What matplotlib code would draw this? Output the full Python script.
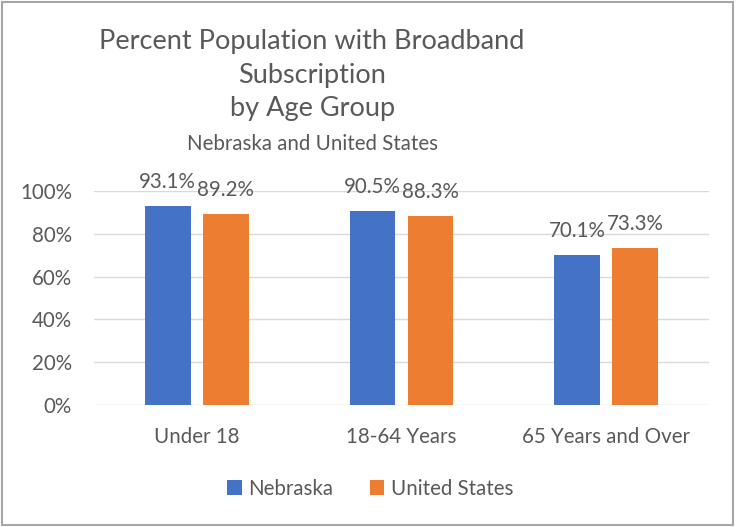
import matplotlib
matplotlib.use("Agg")
import matplotlib.pyplot as plt
import numpy as np
from matplotlib.patches import Rectangle

categories = ["Under 18", "18-64 Years", "65 Years and Over"]
nebraska = [93.1, 90.5, 70.1]
united_states = [89.2, 88.3, 73.3]
series_names = ["Nebraska", "United States"]
yticks = [0, 20, 40, 60, 80, 100]

plt.rcParams['font.family'] = ['Lato', 'DejaVu Sans']
TXT = '#595959'
BLUE = '#4472C4'
ORANGE = '#ED7D31'
FS = 14.8

fig = plt.figure(figsize=(7.36, 5.27), dpi=100)
fig.patches.append(Rectangle((0.003, 0.004), 0.993, 0.992, transform=fig.transFigure,
                             fill=False, edgecolor='#A6A6A6', linewidth=1.5))
ax = fig.add_axes([0.128, 0.2315, 0.835, 0.4061])

x = np.arange(len(categories))
w = 0.224
off = 0.1415
b1 = ax.bar(x - off, nebraska, w, color=BLUE, label=series_names[0], zorder=3)
b2 = ax.bar(x + off, united_states, w, color=ORANGE, label=series_names[1], zorder=3)
for bars, vals in ((b1, nebraska), (b2, united_states)):
    for r, v in zip(bars, vals):
        ax.annotate(f"{v:.1f}%", (r.get_x() + r.get_width() / 2, v), xytext=(0, 10),
                    textcoords='offset points', ha='center', va='bottom',
                    fontsize=FS, color=TXT, annotation_clip=False)

ax.set_xlim(-0.5, 2.5)
ax.set_ylim(0, 100)
ax.set_yticks(yticks)
ax.set_yticklabels([f"{t}%" for t in yticks], fontsize=FS, color=TXT)
ax.set_xticks(x)
ax.set_xticklabels(categories, fontsize=FS, color=TXT)
ax.tick_params(axis='y', length=0, pad=16)
ax.tick_params(axis='x', length=0, pad=16)
ax.grid(axis='y', color='#D9D9D9', linewidth=1, zorder=0)
for s in ax.spines.values():
    s.set_visible(False)

fig.text(0.424, 0.857, "Percent Population with Broadband\nSubscription\nby Age Group",
         ha='center', va='center', fontsize=19.5, color=TXT, linespacing=1.42)
fig.text(0.424, 0.727, "Nebraska and United States", ha='center', va='center',
         fontsize=FS, color=TXT)

leg = fig.legend(handles=[b1, b2], loc='center', bbox_to_anchor=(0.503, 0.073), ncol=2,
                 frameon=False, fontsize=FS, handlelength=0.7, handleheight=0.7,
                 handletextpad=0.3, columnspacing=1.8)
for t in leg.get_texts():
    t.set_color(TXT)

fig.savefig("out.png", dpi=100)
